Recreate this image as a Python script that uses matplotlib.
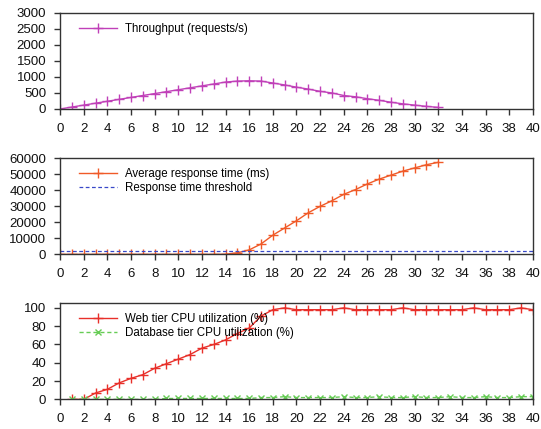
import matplotlib
matplotlib.use('Agg')
import matplotlib.pyplot as plt

plt.rcParams['font.family'] = ['Liberation Sans', 'DejaVu Sans']

# throughput, 0..32
tp_x = list(range(0, 33))
tp_y = [0, 60, 120, 180, 240, 300, 360, 420, 480, 540, 600, 660, 720, 780, 840,
        870, 880, 870, 810, 750, 680, 620, 550, 500, 420, 380, 320, 270, 210,
        160, 120, 80, 50]

# response time, 0..32
rt_x = list(range(0, 33))
rt_y = [0, 0, 0, 0, 0, 0, 0, 0, 0, 0, 0, 0, 0, 0, 100, 1000, 2800, 6500,
        12000, 16500, 21000, 26000, 30000, 33500, 37500, 40500, 44000, 47000,
        49500, 52000, 54000, 56000, 57500]
rt_threshold = 2000

# cpu, 1..40
cpu_x = list(range(1, 41))
web_cpu = [0, 0, 7, 11, 18, 23, 27, 34, 39, 44, 49, 56, 60, 65, 72, 78, 91, 98,
           100, 98, 98, 98, 98, 100, 98, 98, 98, 98, 100, 98, 98, 98, 98, 98,
           100, 98, 98, 98, 100, 98]
db_cpu = [0, 0, 0, 0, 0, 0, 0, 0, 1, 1, 1, 1, 1, 1, 1, 1, 2, 2, 3, 2, 2, 2, 2,
          3, 2, 2, 3, 2, 2, 3, 2, 2, 3, 2, 2, 3, 2, 2, 3, 3]

xticks = list(range(0, 41, 2))

MAG = '#C040B8'
ORG = '#F05A28'
BLU = '#3848C8'
RED = '#E8302A'
GRN = '#66CC55'
SPINE = '#333333'

fig = plt.figure(figsize=(5.41, 4.29), dpi=100)
L, W, H = 0.111, 0.874, 0.224
ax1 = fig.add_axes([L, 0.746, W, H])
ax2 = fig.add_axes([L, 0.407, W, H])
ax3 = fig.add_axes([L, 0.069, W, H])

ax1.plot(tp_x, tp_y, color=MAG, lw=1.0, marker='+', ms=7, mew=1.0,
         label='Throughput (requests/s)')
ax1.set_ylim(0, 3000)
ax1.set_yticks(range(0, 3001, 500))

ax2.plot(rt_x, rt_y, color=ORG, lw=1.0, marker='+', ms=7, mew=1.0,
         label='Average response time (ms)')
ax2.axhline(rt_threshold, color=BLU, lw=0.9, ls=(0, (3, 2)),
            label='Response time threshold')
ax2.set_ylim(0, 60000)
ax2.set_yticks(range(0, 60001, 10000))

ax3.plot(cpu_x, web_cpu, color=RED, lw=1.0, marker='+', ms=7, mew=1.0,
         label='Web tier CPU utilization (%)')
ax3.plot(cpu_x, db_cpu, color=GRN, lw=1.0, ls=(0, (3, 2)), marker='x', ms=5,
         mew=1.0, label='Database tier CPU utilization (%)')
ax3.set_ylim(0, 105)
ax3.set_yticks(range(0, 101, 20))

for ax in (ax1, ax2, ax3):
    ax.set_xlim(0, 40)
    ax.set_xticks(xticks)
    ax.tick_params(labelsize=9.5, length=4, width=1.0, color=SPINE, pad=6,
                   labelcolor='#111111')
    for s in ax.spines.values():
        s.set_color(SPINE)
        s.set_linewidth(1.0)
    ax.legend(loc='upper left', frameon=False, fontsize=8.3, handlelength=3.3,
              handletextpad=0.65, borderaxespad=0.45, labelspacing=0.2,
              bbox_to_anchor=(0.02, 1.0))

fig.savefig('out.png', dpi=100, facecolor='white')
